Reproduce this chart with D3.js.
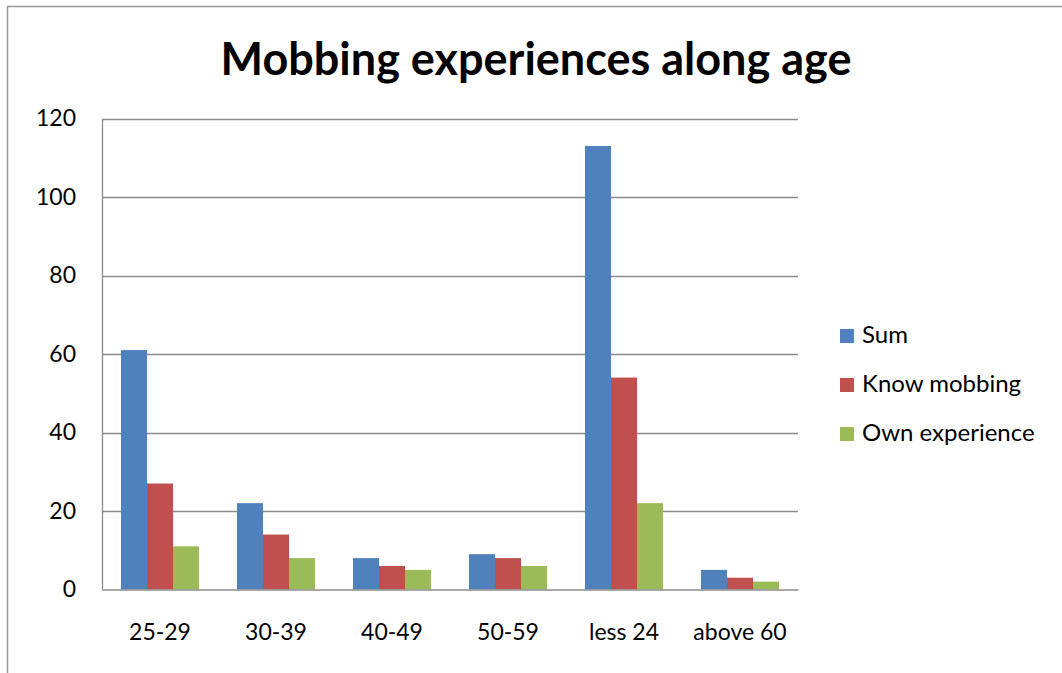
<!DOCTYPE html>
<html><head><meta charset="utf-8">
<script src="https://cdn.jsdelivr.net/npm/d3@7"></script>
<style>body{margin:0;background:#fff}svg{display:block}</style>
</head><body>
<script>
const categories = ["25-29","30-39","40-49","50-59","less 24","above 60"];
const seriesNames = ["Sum","Know mobbing","Own experience"];
const sumValues = [61,22,8,9,113,5];
const knowValues = [27,14,6,8,54,3];
const ownValues = [11,8,5,6,22,2];
const yTicks = [0,20,40,60,80,100,120];
const colors = ["#4F81BD","#C0504D","#9BBB59"];
const seriesValues = [sumValues, knowValues, ownValues];

const W=1062,H=673;
const svg=d3.select("body").append("svg").attr("width",W).attr("height",H);
const font="Lato, 'Open Sans', sans-serif";
// frame
svg.append("path").attr("d",`M7.5,${H} V6.5 H${W}`).attr("fill","none").attr("stroke","#9a9a9a").attr("stroke-width",1.5);

svg.append("text").attr("x",536).attr("y",75).attr("text-anchor","middle")
  .attr("font-family",font).attr("font-weight","bold").attr("font-size",45).attr("fill","#000")
  .text("Mobbing experiences along age");

const x0=102,x1=798,yTop=118.5,yBot=589.5;
const x=d3.scaleBand().domain(categories).range([x0,x1]).paddingInner(0).paddingOuter(0);
const y=d3.scaleLinear().domain([0,120]).range([yBot,yTop]);
const xs=d3.scaleBand().domain(seriesNames).range([0,x.bandwidth()]).paddingInner(0).paddingOuter(19/26);

// grid
const g=svg.append("g");
g.selectAll("line.grid").data(yTicks.filter(d=>d>0)).join("line")
  .attr("x1",x0).attr("x2",x1).attr("y1",d=>Math.round(y(d))+0.5).attr("y2",d=>Math.round(y(d))+0.5)
  .attr("stroke","#8c8c8c").attr("stroke-width",1.3);

// bars
seriesNames.forEach((s,si)=>{
  g.selectAll("rect.s"+si).data(categories).join("rect")
    .attr("x",c=>x(c)+xs(s)).attr("width",xs.bandwidth())
    .attr("y",(c,i)=>y(seriesValues[si][i])).attr("height",(c,i)=>yBot-y(seriesValues[si][i]))
    .attr("fill",colors[si]);
});

// axes
const yAxis=d3.axisLeft(y).tickValues(yTicks).tickSize(0).tickPadding(26);
const ya=svg.append("g").attr("transform",`translate(${x0},0)`).call(yAxis);
ya.select(".domain").attr("stroke","#8c8c8c").attr("stroke-width",1.3);
ya.selectAll("text").attr("font-family",font).attr("font-size",23).attr("fill","#000");

const xAxis=d3.axisBottom(x).tickSize(0).tickPadding(34);
const xa=svg.append("g").attr("transform",`translate(0,${yBot})`).call(xAxis);
xa.select(".domain").attr("stroke","#8c8c8c").attr("stroke-width",1.3);
xa.selectAll("text").attr("font-family",font).attr("font-size",23).attr("fill","#000");

// legend
const leg=svg.append("g");
seriesNames.forEach((s,i)=>{
  const cy=335+i*49;
  leg.append("rect").attr("x",840).attr("y",cy-6).attr("width",14).attr("height",14).attr("fill",colors[i]);
  leg.append("text").attr("x",862).attr("y",cy+8).attr("font-family",font).attr("font-size",24).attr("fill","#000").text(s);
});
</script>
</body></html>
